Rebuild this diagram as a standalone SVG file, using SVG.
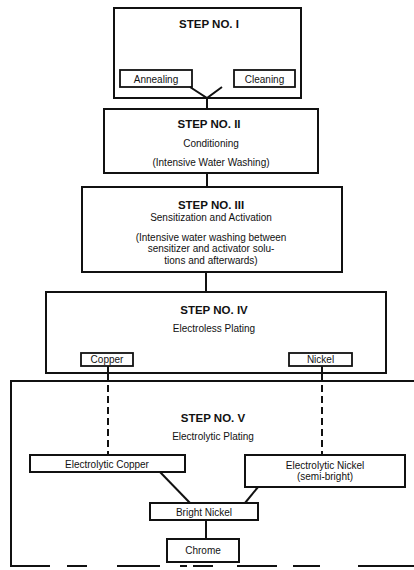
<svg xmlns="http://www.w3.org/2000/svg" width="414" height="570" viewBox="0 0 414 570">
<style>
.box{fill:#fff;stroke:#111;stroke-width:2}
.sbox{fill:#fff;stroke:#111;stroke-width:1.8}
.ln{stroke:#111;stroke-width:2;fill:none}
.dash{stroke:#111;stroke-width:2;fill:none;stroke-dasharray:7,4}
.h{font-family:"Liberation Sans",Arial,sans-serif;font-weight:bold;font-size:11.5px;fill:#111;text-anchor:middle}
.t{font-family:"Liberation Sans",Arial,sans-serif;font-size:10px;fill:#111;text-anchor:middle}
</style>
<rect width="414" height="570" fill="#fff"/>
<g id="step5">
<path class="ln" d="M11,567 V381 H414"/>
<path class="ln" d="M11,566 H50 M67,566 H87 M117,566 H160 M180,566 H187 M193,566 H213 M237,566 H277 M293,566 H320 M358,566 H414"/>
<text class="h" x="213" y="422">STEP NO. V</text>
<text class="t" x="213" y="440">Electrolytic Plating</text>
</g>
<g id="step1">
<rect class="box" x="114" y="8" width="187" height="90"/>
<text class="h" x="209" y="28">STEP NO. I</text>
</g>
<g id="annealing">
<rect class="sbox" x="120" y="70" width="72" height="17"/>
<text class="t" x="156" y="82.5">Annealing</text>
</g>
<g id="cleaning">
<rect class="sbox" x="234" y="70" width="61" height="17"/>
<text class="t" x="264.5" y="82.5">Cleaning</text>
</g>
<g id="step2">
<rect class="box" x="104" y="109" width="214" height="64"/>
<text class="h" x="209" y="128">STEP NO. II</text>
<text class="t" x="211" y="146.5">Conditioning</text>
<text class="t" x="211" y="165.5">(Intensive Water Washing)</text>
</g>
<g id="step3">
<rect class="box" x="82" y="187" width="260" height="85"/>
<text class="h" x="211" y="209">STEP NO. III</text>
<text class="t" x="211" y="220.5">Sensitization and Activation</text>
<text class="t" x="211" y="240.5">(Intensive water washing between</text>
<text class="t" x="211" y="251.5">sensitizer and activator solu-</text>
<text class="t" x="211" y="263.5">tions and afterwards)</text>
</g>
<g id="step4">
<rect class="box" x="46" y="292" width="340" height="81"/>
<text class="h" x="214" y="314">STEP NO. IV</text>
<text class="t" x="214" y="331.5">Electroless Plating</text>
</g>
<g id="copper">
<rect class="sbox" x="81" y="353" width="52" height="13"/>
<text class="t" x="107" y="363">Copper</text>
</g>
<g id="nickel">
<rect class="sbox" x="289" y="353" width="63" height="13"/>
<text class="t" x="320.5" y="363">Nickel</text>
</g>
<g id="ecopper">
<rect class="box" x="30" y="455" width="155" height="17"/>
<text class="t" x="107" y="467.5">Electrolytic Copper</text>
</g>
<g id="enickel">
<rect class="box" x="245" y="455" width="160" height="32"/>
<text class="t" x="325" y="468.5">Electrolytic Nickel</text>
<text class="t" x="325" y="479.5">(semi-bright)</text>
</g>
<g id="bnickel">
<rect class="box" x="150" y="503" width="108" height="17"/>
<text class="t" x="204" y="515.5">Bright Nickel</text>
</g>
<g id="chrome">
<rect class="box" x="167" y="539" width="72" height="23"/>
<text class="t" x="203" y="554">Chrome</text>
</g>
<g id="connectors">
<path class="ln" d="M190,87 L207,98 L222,87 M207,98 V109"/>
<path class="ln" d="M207,173 V187"/>
<path class="ln" d="M206,272 V292"/>
<path class="ln" d="M108,366 V381"/>
<path class="dash" d="M108,385 V455"/>
<path class="ln" d="M322,366 V381"/>
<path class="dash" d="M322,385 V455"/>
<path class="ln" d="M160,472 L190,503"/>
<path class="ln" d="M258,487 L245,503"/>
<path class="ln" d="M206,520 V539"/>
</g>
</svg>
